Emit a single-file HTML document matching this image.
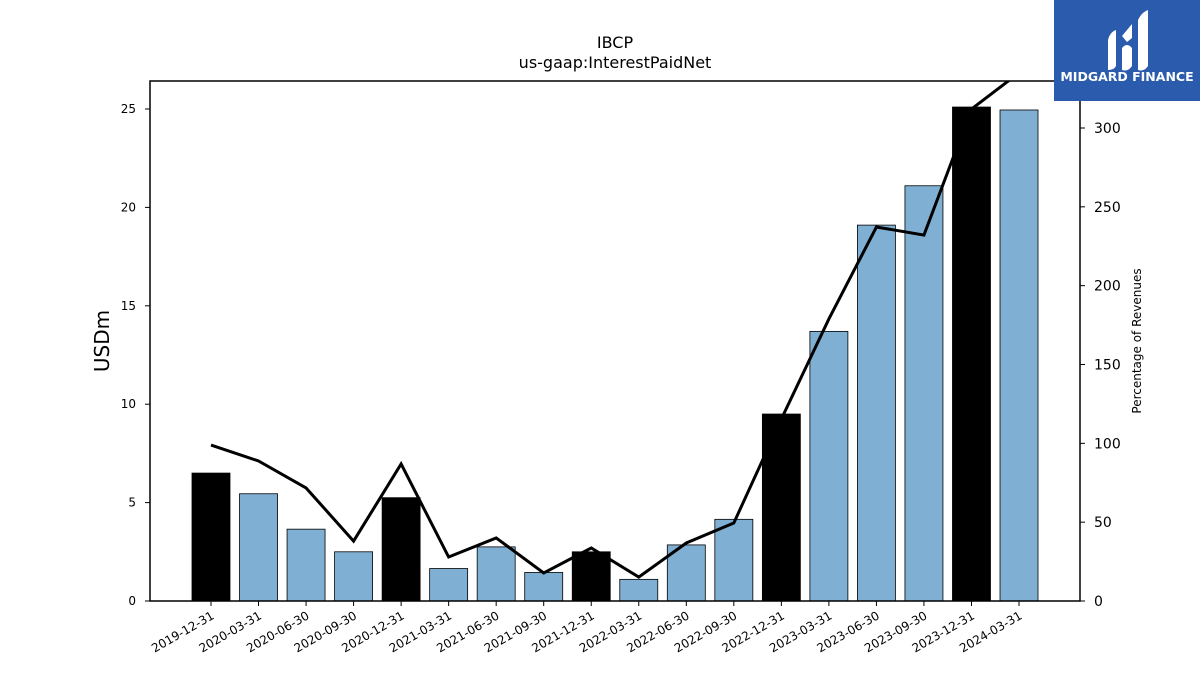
<!DOCTYPE html>
<html><head><meta charset="utf-8"><style>
body{margin:0;background:#fff;font-family:"Liberation Sans","DejaVu Sans",sans-serif;}
svg text{font-family:"DejaVu Sans","Liberation Sans",sans-serif;}
</style></head><body>
<svg id="c" width="1200" height="675" xmlns="http://www.w3.org/2000/svg">
<text x="615" y="48" font-size="16" text-anchor="middle">IBCP</text>
<text x="615" y="68" font-size="16" text-anchor="middle">us-gaap:InterestPaidNet</text>
<text transform="translate(109,341) rotate(-90)" font-size="20" text-anchor="middle">USDm</text>
<text transform="translate(1141,341) rotate(-90)" font-size="12" text-anchor="middle">Percentage of Revenues</text>
<g id="bars"></g><g id="ax"></g>
<rect x="1054" y="0" width="146" height="101" fill="#2b5bad"/>
<path d="M1108 70 L1108 40 Q1110 32 1116 30 L1116 66 Q1114 70 1108 70Z M1122 70 L1122 48 Q1127 42 1132 48 L1132 66 Q1128 72 1122 70Z M1138 70 L1138 20 Q1142 12 1148 10 L1148 66 Q1144 72 1138 70Z M1122 36 L1132 24 L1132 38 L1127 42Z" fill="#fff"/>
<text x="1127" y="81" font-size="12.5" font-weight="bold" fill="#fff" text-anchor="middle">MIDGARD FINANCE</text>
</svg>
<script>
const categories=["2019-12-31","2020-03-31","2020-06-30","2020-09-30","2020-12-31","2021-03-31","2021-06-30","2021-09-30","2021-12-31","2022-03-31","2022-06-30","2022-09-30","2022-12-31","2023-03-31","2023-06-30","2023-09-30","2023-12-31","2024-03-31"];
const barValues=[6.5,5.45,3.65,2.5,5.25,1.65,2.75,1.45,2.5,1.1,2.85,4.15,9.5,13.7,19.1,21.1,25.1,24.95];
const lineValues=[98.9,88.8,71.7,38,86.9,27.9,40,17.8,33.6,15.2,36.8,49.5,115.4,178.9,237.2,232.1,312,335];
const leftTicks=[0,5,10,15,20,25];
const rightTicks=[0,50,100,150,200,250,300];
const NS="http://www.w3.org/2000/svg";
const L=150,R=1080,T=81,B=601;
const yL=v=>B-v*19.68, yR=v=>B-v*1.5767;
const xC=i=>211+i*47.53;
const bars=document.getElementById('bars'),ax=document.getElementById('ax');
function mk(tag,a,p){const e=document.createElementNS(NS,tag);for(const k in a)e.setAttribute(k,a[k]);p.appendChild(e);return e;}
barValues.forEach((v,i)=>{
 const r=mk('rect',{x:xC(i)-19,y:yL(v),width:38,height:B-yL(v),fill:categories[i].endsWith('12-31')?'#000':'#7fb0d4',stroke:'#000','stroke-width':0.8},bars);
 
 
 const t=mk('text',{transform:`translate(${xC(i)+4},${B+17}) rotate(-30)`,'font-size':12,'text-anchor':'end'},ax);
 t.textContent=categories[i];
 
 
 mk('line',{x1:xC(i),x2:xC(i),y1:B,y2:B+5,stroke:'#000'},ax);
});
const cp=mk('clipPath',{id:'cp'},ax);mk('rect',{x:L,y:T,width:R-L,height:B-T},cp);
const line=mk('polyline',{points:lineValues.map((v,i)=>xC(i)+','+yR(v)).join(' '),fill:'none',stroke:'#000','stroke-width':3,'clip-path':'url(#cp)'},ax);


mk('rect',{x:L,y:T,width:R-L,height:B-T,fill:'none',stroke:'#000','stroke-width':1.5},ax);
leftTicks.forEach(v=>{mk('line',{x1:L-5,x2:L,y1:yL(v),y2:yL(v),stroke:'#000'},ax);
 const t=mk('text',{x:L-14,y:yL(v)+4,'font-size':12,'text-anchor':'end'},ax);t.textContent=v;
 
 });
rightTicks.forEach(v=>{mk('line',{x1:R,x2:R+5,y1:yR(v),y2:yR(v),stroke:'#000'},ax);
 const t=mk('text',{x:R+14,y:yR(v)+5,'font-size':14},ax);t.textContent=v;
 
 });
</script>
</body></html>
